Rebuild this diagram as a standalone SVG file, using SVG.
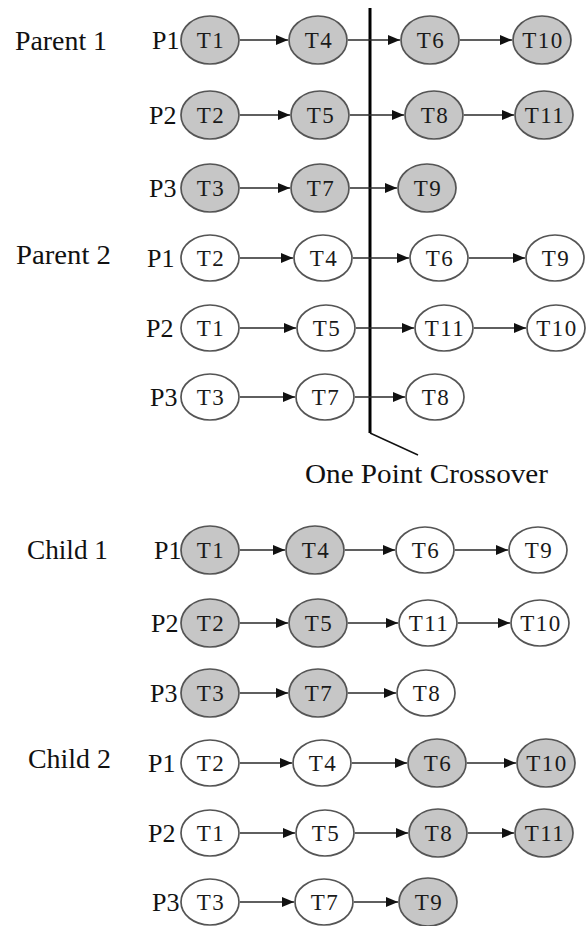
<svg xmlns="http://www.w3.org/2000/svg" width="586" height="926" viewBox="0 0 586 926">
  <style>
    .lbl { font-family: "Liberation Serif", "Times New Roman", serif; font-size: 27px; fill: #111; }
    .p { font-family: "Liberation Serif", "Times New Roman", serif; font-size: 26px; fill: #111; }
    .t { font-family: "Liberation Serif", "Times New Roman", serif; font-size: 23px; letter-spacing: 1.5px; fill: #1a1a1a; text-anchor: middle; }
    .f { fill: #c6c6c6; stroke: #555; stroke-width: 1.7; }
    .w { fill: #ffffff; stroke: #555; stroke-width: 1.7; }
    .c { stroke: #2a2a2a; stroke-width: 1.6; fill: none; marker-end: url(#ah); }
  </style>
  <defs>
    <marker id="ah" viewBox="0 0 12 10" refX="12" refY="5" markerWidth="12" markerHeight="10" markerUnits="userSpaceOnUse" orient="auto">
      <path d="M0,0 L12,5 L0,10 Z" fill="#111"/>
    </marker>
  </defs>
  <rect width="586" height="926" fill="#ffffff"/>

  <!-- group labels -->
  <g id="labels">
    <text class="lbl" x="15" y="50" textLength="92" lengthAdjust="spacingAndGlyphs">Parent 1</text>
    <text class="lbl" x="16" y="264" textLength="95" lengthAdjust="spacingAndGlyphs">Parent 2</text>
    <text class="lbl" x="27" y="559" textLength="81" lengthAdjust="spacingAndGlyphs">Child 1</text>
    <text class="lbl" x="28" y="768" textLength="83" lengthAdjust="spacingAndGlyphs">Child 2</text>
    <text class="lbl" x="305" y="483" textLength="243" lengthAdjust="spacingAndGlyphs">One Point Crossover</text>
    <text class="p" x="152" y="49">P1</text>
    <text class="p" x="149" y="124">P2</text>
    <text class="p" x="149" y="197">P3</text>
    <text class="p" x="147" y="267">P1</text>
    <text class="p" x="146" y="337">P2</text>
    <text class="p" x="150" y="406">P3</text>
    <text class="p" x="154" y="559">P1</text>
    <text class="p" x="151" y="632">P2</text>
    <text class="p" x="150" y="702">P3</text>
    <text class="p" x="148" y="772">P1</text>
    <text class="p" x="148" y="842">P2</text>
    <text class="p" x="152" y="911">P3</text>
  </g>

  <!-- crossover cut line -->
  <g id="crossover">
    <line x1="370" y1="8" x2="370" y2="433" stroke="#000" stroke-width="3"/>
    <line x1="370" y1="433" x2="418" y2="455" stroke="#111" stroke-width="1.4"/>
  </g>

  <!-- connectors -->
  <g id="connectors">
    <!-- Parent 1 -->
    <line class="c" x1="240" y1="40" x2="288" y2="40"/>
    <line class="c" x1="348" y1="40" x2="400" y2="40"/>
    <line class="c" x1="460" y1="40" x2="512" y2="40"/>
    <line class="c" x1="240" y1="115" x2="290" y2="115"/>
    <line class="c" x1="350" y1="115" x2="404" y2="115"/>
    <line class="c" x1="464" y1="115" x2="514" y2="115"/>
    <line class="c" x1="240" y1="188" x2="290" y2="188"/>
    <line class="c" x1="350" y1="188" x2="397" y2="188"/>
    <!-- Parent 2 -->
    <line class="c" x1="240" y1="258" x2="293" y2="258"/>
    <line class="c" x1="353" y1="258" x2="409" y2="258"/>
    <line class="c" x1="469" y1="258" x2="525" y2="258"/>
    <line class="c" x1="240" y1="328" x2="296" y2="328"/>
    <line class="c" x1="356" y1="328" x2="414" y2="328"/>
    <line class="c" x1="474" y1="328" x2="526" y2="328"/>
    <line class="c" x1="240" y1="397" x2="295" y2="397"/>
    <line class="c" x1="355" y1="397" x2="405" y2="397"/>
    <!-- Child 1 -->
    <line class="c" x1="240" y1="550" x2="285" y2="550"/>
    <line class="c" x1="345" y1="550" x2="395" y2="550"/>
    <line class="c" x1="455" y1="550" x2="508" y2="550"/>
    <line class="c" x1="240" y1="623" x2="288" y2="623"/>
    <line class="c" x1="348" y1="623" x2="398" y2="623"/>
    <line class="c" x1="458" y1="623" x2="510" y2="623"/>
    <line class="c" x1="240" y1="693" x2="288" y2="693"/>
    <line class="c" x1="348" y1="693" x2="396" y2="693"/>
    <!-- Child 2 -->
    <line class="c" x1="240" y1="763" x2="292" y2="763"/>
    <line class="c" x1="352" y1="763" x2="407" y2="763"/>
    <line class="c" x1="467" y1="763" x2="516" y2="763"/>
    <line class="c" x1="240" y1="833" x2="295" y2="833"/>
    <line class="c" x1="355" y1="833" x2="408" y2="833"/>
    <line class="c" x1="468" y1="833" x2="514" y2="833"/>
    <line class="c" x1="240" y1="902" x2="294" y2="902"/>
    <line class="c" x1="354" y1="902" x2="398" y2="902"/>
  </g>

  <!-- Parent 1 nodes -->
  <g id="p1-r1-t1"><ellipse class="f" cx="210" cy="40" rx="29" ry="24"/><text class="t" x="211" y="48">T1</text></g>
  <g id="p1-r1-t4"><ellipse class="f" cx="318" cy="40" rx="29" ry="24"/><text class="t" x="319" y="48">T4</text></g>
  <g id="p1-r1-t6"><ellipse class="f" cx="430" cy="40" rx="29" ry="24"/><text class="t" x="431" y="48">T6</text></g>
  <g id="p1-r1-t10"><ellipse class="f" cx="542" cy="40" rx="29" ry="24"/><text class="t" x="543" y="48">T10</text></g>
  <g id="p1-r2-t2"><ellipse class="f" cx="210" cy="115" rx="29" ry="24"/><text class="t" x="211" y="123">T2</text></g>
  <g id="p1-r2-t5"><ellipse class="f" cx="320" cy="115" rx="29" ry="24"/><text class="t" x="321" y="123">T5</text></g>
  <g id="p1-r2-t8"><ellipse class="f" cx="434" cy="115" rx="29" ry="24"/><text class="t" x="435" y="123">T8</text></g>
  <g id="p1-r2-t11"><ellipse class="f" cx="544" cy="115" rx="29" ry="24"/><text class="t" x="545" y="123">T11</text></g>
  <g id="p1-r3-t3"><ellipse class="f" cx="210" cy="188" rx="29" ry="24"/><text class="t" x="211" y="196">T3</text></g>
  <g id="p1-r3-t7"><ellipse class="f" cx="320" cy="188" rx="29" ry="24"/><text class="t" x="321" y="196">T7</text></g>
  <g id="p1-r3-t9"><ellipse class="f" cx="427" cy="188" rx="29" ry="24"/><text class="t" x="428" y="196">T9</text></g>

  <!-- Parent 2 nodes -->
  <g id="p2-r1-t2"><ellipse class="w" cx="210" cy="258" rx="29" ry="23"/><text class="t" x="211" y="266">T2</text></g>
  <g id="p2-r1-t4"><ellipse class="w" cx="323" cy="258" rx="29" ry="23"/><text class="t" x="324" y="266">T4</text></g>
  <g id="p2-r1-t6"><ellipse class="w" cx="439" cy="258" rx="29" ry="23"/><text class="t" x="440" y="266">T6</text></g>
  <g id="p2-r1-t9"><ellipse class="w" cx="555" cy="258" rx="29" ry="23"/><text class="t" x="556" y="266">T9</text></g>
  <g id="p2-r2-t1"><ellipse class="w" cx="210" cy="328" rx="29" ry="23"/><text class="t" x="211" y="336">T1</text></g>
  <g id="p2-r2-t5"><ellipse class="w" cx="326" cy="328" rx="29" ry="23"/><text class="t" x="327" y="336">T5</text></g>
  <g id="p2-r2-t11"><ellipse class="w" cx="444" cy="328" rx="29" ry="23"/><text class="t" x="445" y="336">T11</text></g>
  <g id="p2-r2-t10"><ellipse class="w" cx="556" cy="328" rx="29" ry="23"/><text class="t" x="557" y="336">T10</text></g>
  <g id="p2-r3-t3"><ellipse class="w" cx="210" cy="397" rx="29" ry="23"/><text class="t" x="211" y="405">T3</text></g>
  <g id="p2-r3-t7"><ellipse class="w" cx="325" cy="397" rx="29" ry="23"/><text class="t" x="326" y="405">T7</text></g>
  <g id="p2-r3-t8"><ellipse class="w" cx="435" cy="397" rx="29" ry="23"/><text class="t" x="436" y="405">T8</text></g>

  <!-- Child 1 nodes -->
  <g id="c1-r1-t1"><ellipse class="f" cx="210" cy="550" rx="29" ry="24"/><text class="t" x="211" y="558">T1</text></g>
  <g id="c1-r1-t4"><ellipse class="f" cx="315" cy="550" rx="29" ry="24"/><text class="t" x="316" y="558">T4</text></g>
  <g id="c1-r1-t6"><ellipse class="w" cx="425" cy="550" rx="29" ry="23"/><text class="t" x="426" y="558">T6</text></g>
  <g id="c1-r1-t9"><ellipse class="w" cx="538" cy="550" rx="29" ry="23"/><text class="t" x="539" y="558">T9</text></g>
  <g id="c1-r2-t2"><ellipse class="f" cx="210" cy="623" rx="29" ry="24"/><text class="t" x="211" y="631">T2</text></g>
  <g id="c1-r2-t5"><ellipse class="f" cx="318" cy="623" rx="29" ry="24"/><text class="t" x="319" y="631">T5</text></g>
  <g id="c1-r2-t11"><ellipse class="w" cx="428" cy="623" rx="29" ry="23"/><text class="t" x="429" y="631">T11</text></g>
  <g id="c1-r2-t10"><ellipse class="w" cx="540" cy="623" rx="29" ry="23"/><text class="t" x="541" y="631">T10</text></g>
  <g id="c1-r3-t3"><ellipse class="f" cx="210" cy="693" rx="29" ry="24"/><text class="t" x="211" y="701">T3</text></g>
  <g id="c1-r3-t7"><ellipse class="f" cx="318" cy="693" rx="29" ry="24"/><text class="t" x="319" y="701">T7</text></g>
  <g id="c1-r3-t8"><ellipse class="w" cx="426" cy="693" rx="29" ry="23"/><text class="t" x="427" y="701">T8</text></g>

  <!-- Child 2 nodes -->
  <g id="c2-r1-t2"><ellipse class="w" cx="210" cy="763" rx="29" ry="23"/><text class="t" x="211" y="771">T2</text></g>
  <g id="c2-r1-t4"><ellipse class="w" cx="322" cy="763" rx="29" ry="23"/><text class="t" x="323" y="771">T4</text></g>
  <g id="c2-r1-t6"><ellipse class="f" cx="437" cy="763" rx="29" ry="24"/><text class="t" x="438" y="771">T6</text></g>
  <g id="c2-r1-t10"><ellipse class="f" cx="546" cy="763" rx="29" ry="24"/><text class="t" x="547" y="771">T10</text></g>
  <g id="c2-r2-t1"><ellipse class="w" cx="210" cy="833" rx="29" ry="23"/><text class="t" x="211" y="841">T1</text></g>
  <g id="c2-r2-t5"><ellipse class="w" cx="325" cy="833" rx="29" ry="23"/><text class="t" x="326" y="841">T5</text></g>
  <g id="c2-r2-t8"><ellipse class="f" cx="438" cy="833" rx="29" ry="24"/><text class="t" x="439" y="841">T8</text></g>
  <g id="c2-r2-t11"><ellipse class="f" cx="544" cy="833" rx="29" ry="24"/><text class="t" x="545" y="841">T11</text></g>
  <g id="c2-r3-t3"><ellipse class="w" cx="210" cy="902" rx="29" ry="23"/><text class="t" x="211" y="910">T3</text></g>
  <g id="c2-r3-t7"><ellipse class="w" cx="324" cy="902" rx="29" ry="23"/><text class="t" x="325" y="910">T7</text></g>
  <g id="c2-r3-t9"><ellipse class="f" cx="428" cy="902" rx="29" ry="24"/><text class="t" x="429" y="910">T9</text></g>
</svg>
